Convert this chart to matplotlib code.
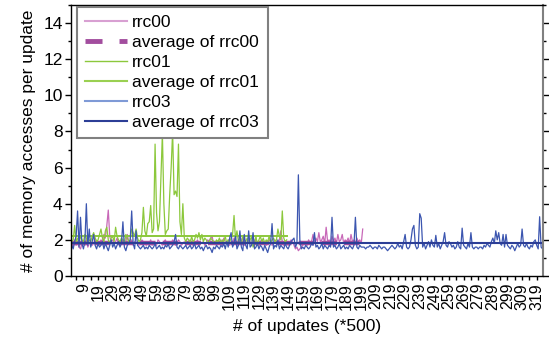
import matplotlib
matplotlib.use("Agg")
import matplotlib.pyplot as plt
from matplotlib.ticker import FixedLocator, MultipleLocator
from matplotlib.lines import Line2D

plt.rcParams['font.family'] = ['Liberation Sans', 'DejaVu Sans']

rrc00 = [
    1.8, 1.6, 2.0, 1.7, 1.9, 1.6, 1.5, 1.8, 1.9, 1.7, 2.0, 1.6, 1.8, 1.9, 1.7, 1.8, 2.1, 1.9, 1.7, 1.8,
    2.0, 1.9, 2.3, 2.1, 2.8, 3.65, 2.2, 1.9, 2.0, 1.8, 1.9, 2.1, 1.8, 1.7, 1.9, 2.0, 1.8, 1.9, 2.3, 1.9,
    1.8, 2.0, 1.7, 1.9, 1.8, 1.9, 1.7, 1.8, 2.0, 1.9, 1.8, 1.7, 1.9, 1.8, 2.0, 1.7, 1.9, 1.8, 1.7, 2.0,
    1.9, 1.8, 1.7, 1.9, 2.0, 1.8, 1.7, 1.9, 1.8, 2.0, 1.9, 1.7, 1.8, 2.0, 1.9, 1.7, 1.8, 1.9, 1.7, 1.8,
    1.9, 2.0, 1.8, 1.7, 1.9, 1.8, 2.0, 1.7, 1.9, 1.8, 1.9, 1.7, 1.8, 2.0, 1.9, 2.1, 2.2, 1.8, 1.9, 1.7,
    1.9, 1.8, 2.0, 1.7, 2.1, 1.9, 1.8, 2.0, 1.7, 1.9, 1.8, 2.1, 1.9, 1.7, 2.0, 1.8, 1.9, 2.2, 1.7, 1.9,
    1.8, 2.0, 1.9, 1.7, 1.8, 2.0, 1.9, 1.8, 1.7, 1.9, 2.0, 1.8, 1.9, 1.7, 1.8, 2.0, 1.9, 1.7, 1.8, 2.0,
    1.9, 1.8, 2.0, 2.5, 1.9, 1.7, 1.8, 1.9, 1.7, 1.8, 2.0, 1.9, 1.7, 1.5, 1.6, 1.4, 1.5, 1.6, 1.7, 1.8,
    1.9, 1.7, 2.0, 1.8, 1.9, 2.3, 1.8, 2.1, 1.9, 2.4, 1.9, 2.0, 2.2, 1.8, 2.7, 1.9, 2.0, 1.8, 2.2, 1.9,
    2.1, 1.8, 2.3, 1.9, 2.0, 2.3, 1.8, 2.0, 1.9, 2.1, 1.8, 2.3, 1.9, 2.0, 1.8, 2.1, 1.9, 2.0, 1.8, 2.6,
]

rrc01 = [
    1.9, 2.0, 2.8, 1.9, 2.1, 1.8, 2.2, 2.0, 1.9, 2.3, 2.1, 1.8, 2.0, 1.9, 2.2, 2.4, 2.1, 1.9, 2.0, 2.3,
    2.6, 2.1, 1.9, 2.5, 2.7, 2.0, 1.8, 2.1, 2.2, 1.9, 2.7, 2.2, 2.0, 1.9, 2.1, 2.0, 1.8, 2.3, 2.1, 1.9,
    2.0, 2.6, 2.4, 2.2, 2.6, 2.1, 1.9, 2.0, 2.4, 3.8, 2.5, 2.2, 2.9, 3.0, 3.9, 2.4, 2.6, 7.3, 3.5, 2.5,
    3.0, 5.5, 7.9, 4.0, 2.3, 2.5, 2.6, 4.5, 6.0, 8.0, 4.5, 4.7, 4.4, 7.3, 3.0, 2.3, 4.0, 2.1, 1.9, 2.1,
    2.0, 1.8, 2.2, 1.9, 2.0, 2.3, 2.1, 2.4, 2.0, 2.3, 1.9, 2.1, 2.0, 1.8, 1.9, 2.1, 2.0, 1.9, 1.8, 2.0,
    1.9, 2.1, 1.8, 2.0, 1.9, 2.2, 1.8, 2.0, 1.9, 2.1, 2.3, 3.35, 2.0, 2.5, 1.9, 2.1, 1.8, 2.2, 2.0, 1.9,
    2.1, 1.8, 2.0, 2.2, 1.6, 1.8, 2.2, 1.7, 2.0, 2.2, 1.9, 2.1, 1.8, 2.0, 1.9, 2.2, 1.8, 2.0, 2.1, 1.9,
    2.0, 2.6, 2.2, 2.0, 3.6, 2.1, 1.9, 2.0,
]

rrc03 = [
    1.7, 1.5, 1.9, 2.2, 3.6, 1.6, 3.25, 1.8, 1.5, 1.9, 4.0, 1.7, 2.6, 1.6, 1.9, 2.3, 1.7, 1.5, 1.8, 1.6,
    1.7, 1.9, 1.5, 1.8, 1.6, 1.4, 1.7, 2.0, 1.6, 1.8, 1.5, 1.7, 1.9, 1.6, 1.8, 3.0, 1.6, 1.4, 1.7, 1.8,
    2.0, 3.6, 1.8, 1.5, 2.5, 1.7, 1.6, 1.5, 1.6, 1.7, 1.5, 1.6, 1.5, 1.7, 1.6, 1.5, 1.6, 1.8, 1.5, 1.6,
    1.7, 1.5, 1.6, 1.5, 1.7, 1.6, 1.8, 1.5, 1.6, 1.7, 1.9, 2.3, 1.6, 1.5, 1.7, 1.6, 1.5, 1.6, 1.7, 1.5,
    1.6, 1.7, 1.5, 1.6, 1.8, 1.5, 1.6, 1.7, 1.5, 1.6, 1.4, 1.6, 1.7, 1.5, 1.6, 1.5, 1.3, 1.6, 1.5, 1.7,
    1.6, 1.5, 1.7, 1.6, 1.8, 1.5, 1.9, 1.6, 2.1, 2.4, 1.6, 1.8, 2.2, 1.5, 1.7, 2.5, 1.6, 1.4, 2.3, 1.7,
    1.5, 2.5, 1.6, 1.7, 2.4, 1.5, 1.6, 1.8, 1.5, 1.7, 1.6, 1.4, 1.7, 1.5, 1.3, 1.6, 1.8, 2.9, 1.5, 1.7,
    1.6, 2.0, 1.5, 1.7, 1.6, 1.5, 1.8, 1.6, 1.5, 1.7, 1.9, 2.0, 2.1, 1.6, 1.8, 5.6, 2.0, 1.5, 1.6, 1.5,
    1.7, 1.6, 1.5, 1.6, 1.8, 1.7, 2.4, 1.6, 1.7, 1.5, 1.6, 1.8, 1.5, 1.7, 1.6, 1.5, 1.7, 1.6, 3.25, 1.6,
    1.7, 1.5, 1.6, 1.8, 1.5, 1.6, 1.7, 1.5, 1.6, 1.5, 1.7, 1.6, 1.5, 1.7, 3.25, 1.6, 1.5, 1.7, 1.6, 1.6,
    1.6, 1.5, 1.6, 1.6, 1.7, 1.6, 1.5, 1.6, 1.6, 1.5, 1.7, 1.6, 1.5, 1.6, 1.6, 1.5, 1.4, 1.5, 1.6, 1.7,
    1.6, 1.5, 1.6, 1.8, 1.6, 1.7, 1.5, 1.9, 2.3, 1.6, 1.5, 1.6, 2.0, 2.6, 2.8, 1.7, 1.5, 1.6, 3.45, 3.2,
    1.6, 1.8, 1.5, 1.7, 1.9, 1.6, 2.0, 1.7, 1.6, 2.25, 1.6, 1.8, 1.5, 1.7, 1.9, 2.4, 1.7, 1.6, 1.9, 1.8,
    1.6, 1.7, 1.5, 1.6, 1.9, 1.6, 1.5, 2.65, 1.7, 1.6, 1.5, 1.8, 1.6, 2.4, 1.6, 1.5, 1.6, 1.6, 1.5, 1.6,
    1.6, 1.5, 1.7, 1.6, 1.8, 1.7, 1.6, 1.9, 2.1, 1.8, 2.5, 2.0, 2.4, 1.8, 1.7, 2.3, 1.6, 2.3, 1.7, 1.6,
    1.5, 1.7, 1.6, 1.4, 1.6, 1.8, 1.6, 1.7, 2.6, 1.7, 1.6, 1.8, 1.6, 1.5, 1.7, 1.6, 1.9, 2.0, 1.7, 1.5,
    3.28, 1.6, 1.5,
]

avg_rrc00 = 1.84
avg_rrc01 = 2.23
avg_rrc03 = 1.80

x_tick_values = list(range(9, 320, 10))
x_tick_labels = [str(v) for v in x_tick_values]

fig = plt.figure(figsize=(5.49, 3.47), dpi=100)
ax = fig.add_axes([71 / 549, 1 - 276 / 347, 472.3 / 549, 271 / 347])

x00 = list(range(1, len(rrc00) + 1))
x01 = list(range(1, len(rrc01) + 1))
x03 = list(range(1, len(rrc03) + 1))

ax.plot(x00, rrc00, color='#c868b8', lw=0.9)
ax.plot([x00[0], x00[-1]], [avg_rrc00, avg_rrc00], color='#a24d9e', lw=3.2,
        linestyle=(0, (3.5, 1.6)), solid_capstyle='butt')
ax.plot(x01, rrc01, color='#8cc83c', lw=0.9)
ax.plot([x01[0], x01[-1]], [avg_rrc01, avg_rrc01], color='#8cc83c', lw=1.4)
ax.plot(x03, rrc03, color='#3c56b0', lw=0.9)
ax.plot([x03[0], x03[-1]], [avg_rrc03, avg_rrc03], color='#2c3e96', lw=1.5)

handles = [
    Line2D([], [], color='#d8a0d2', lw=1.5),
    Line2D([], [], color='#a24d9e', lw=3.5, linestyle=(0, (3.5, 3.5))),
    Line2D([], [], color='#8cc83c', lw=1.0),
    Line2D([], [], color='#9ad052', lw=1.5),
    Line2D([], [], color='#7f9ad6', lw=1.5),
    Line2D([], [], color='#2c3e96', lw=1.5),
]
labels = ['rrc00', 'average of rrc00', 'rrc01', 'average of rrc01', 'rrc03', 'average of rrc03']
leg = ax.legend(handles, labels, loc='upper left', bbox_to_anchor=(0.012, 0.994),
                borderaxespad=0, fontsize=12.5, frameon=True, fancybox=False,
                framealpha=1, edgecolor='#808080', handlelength=2.4,
                handletextpad=0.3, labelspacing=0.27, borderpad=0.5)
leg.get_frame().set_linewidth(1.5)

ax.set_xlim(0.5, 323.5)
ax.set_ylim(0, 15)
ax.xaxis.set_major_locator(FixedLocator(x_tick_values))
ax.set_xticklabels(x_tick_labels, rotation=90, fontsize=11.5)
ax.xaxis.set_minor_locator(FixedLocator([v - 5 for v in x_tick_values] + [324]))
ax.yaxis.set_major_locator(MultipleLocator(2))
ax.yaxis.set_minor_locator(MultipleLocator(1))
ax.tick_params(axis='y', labelsize=12.5, direction='out', length=4, width=1, right=True, pad=2)
ax.tick_params(axis='y', which='minor', direction='out', length=2.5, width=1, right=True)
ax.tick_params(axis='x', direction='out', length=3, width=1, pad=2)
ax.tick_params(axis='x', which='minor', direction='out', length=3, width=1)

for s in ['left', 'bottom', 'top']:
    ax.spines[s].set_color('black')
    ax.spines[s].set_linewidth(1.0)
ax.spines['right'].set_color('#808080')
ax.spines['right'].set_linewidth(1.5)

ax.set_xlabel('# of updates (*500)', fontsize=12.5, labelpad=7)
ax.set_ylabel('# of memory accesses per update', fontsize=12.5, labelpad=5)

fig.savefig('out.png', dpi=100)
